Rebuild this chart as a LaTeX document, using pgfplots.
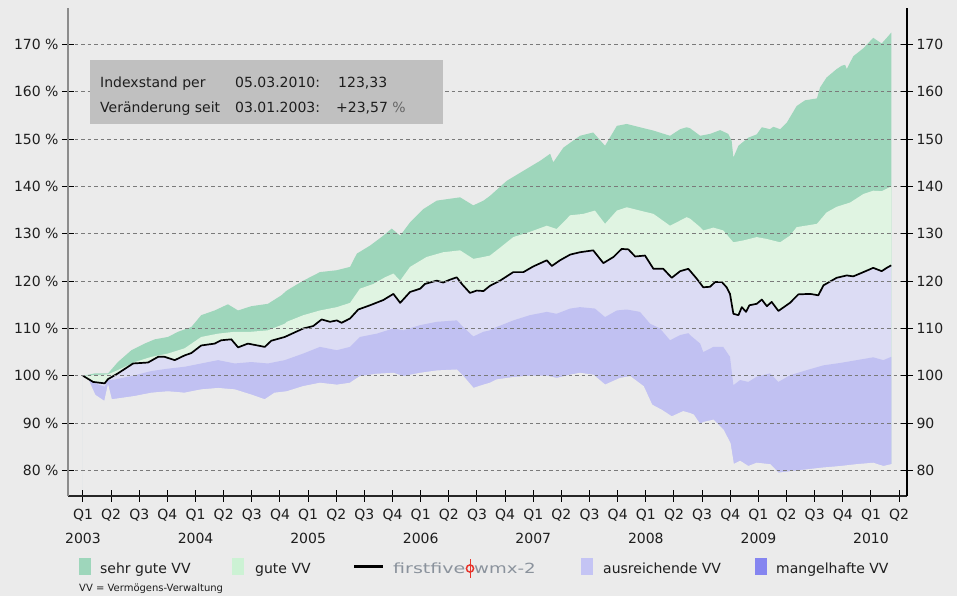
\documentclass[border=0pt]{standalone}
\usepackage{fontspec}
\setmainfont{DejaVu Sans}
\usepackage{graphicx}
\usepackage{pgfplots}
\pgfplotsset{compat=1.18}
\definecolor{bg}{HTML}{EBEBEB}
\definecolor{sgut}{HTML}{9ED6BB}
\definecolor{gut}{HTML}{E0F4E2}
\definecolor{gutleg}{HTML}{CCF2D4}
\definecolor{ausr}{HTML}{DCDCF4}
\definecolor{ausrleg}{HTML}{C4C4F4}
\definecolor{mang}{HTML}{C1C1F2}
\definecolor{mangleg}{HTML}{8585F0}
\definecolor{boxgray}{HTML}{C0C0C0}
\definecolor{gridgray}{HTML}{7A7A7A}
\definecolor{txt}{HTML}{1E1E1E}
\definecolor{logogray}{HTML}{8A929C}
\definecolor{logored}{HTML}{E8332A}
\pgfplotsset{
  common/.style={
    at={(68bp,100bp)}, anchor=south west,
    scale only axis, width=839bp, height=488bp,
    xmin=-0.533, xmax=29.28, ymin=74.6, ymax=177.7,
    ytick={80,90,...,170},
    tick align=center, major tick length=12bp,
    tick style={black, line width=1bp},
    tick label style={font=\fontsize{14bp}{24bp}\selectfont, text=txt},
  }
}
\begin{document}
\begin{tikzpicture}
\useasboundingbox (0,0) rectangle (957bp,596bp);
\fill[bg] (0,0) rectangle (957bp,596bp);
\begin{axis}[common,
  axis on top,
  axis x line*=bottom, axis y line*=left,
  x axis line style={-, black!85, line width=1.3bp},
  y axis line style={-, black!45, line width=1.5bp},
  xtick={0,...,29},
  xticklabels={{Q1\\2003},Q2,Q3,Q4,{Q1\\2004},Q2,Q3,Q4,{Q1\\2005},Q2,Q3,Q4,{Q1\\2006},Q2,Q3,Q4,{Q1\\2007},Q2,Q3,Q4,{Q1\\2008},Q2,Q3,Q4,{Q1\\2009},Q2,Q3,Q4,{Q1\\2010},Q2},
  xticklabel style={align=center, yshift=-4bp},
  yticklabels={80 \%,90 \%,100 \%,110 \%,120 \%,130 \%,140 \%,150 \%,160 \%,170 \%},
  ymajorgrids,
  grid style={gridgray, dash pattern=on 3.5bp off 3bp, line width=1bp},
]
% sehr gute VV (upper envelope)
\addplot[fill=sgut, draw=none] coordinates {
(0,100) (0.42,100.5) (0.89,100.5) (1.24,102.9) (1.72,105.4) (2.19,106.8) (2.55,107.7) (3.02,108.2) (3.38,109.3) (3.85,110.3) (4.20,112.8) (4.68,113.8) (5.15,115.1) (5.51,113.8) (5.98,114.7) (6.57,115.2) (7.05,117) (7.24,118) (7.83,120.1) (8.42,121.9) (9.02,122.3) (9.49,123) (9.73,125.8) (10.20,127.5) (10.67,129.6) (10.97,131.1) (11.27,129.6) (11.62,132.4) (12.09,135.2) (12.57,137) (13.04,137.4) (13.40,137.7) (13.87,136) (14.23,137) (14.46,138) (15.06,141.2) (15.65,143.3) (16.24,145.4) (16.60,146.9) (16.71,145.1) (17.07,148.2) (17.66,150.7) (18.13,151.4) (18.55,148.6) (18.97,152.8) (19.32,153.2) (19.79,152.5) (20.27,151.8) (20.86,150.7) (21.22,152.1) (21.45,152.5) (21.57,152.3) (21.93,150.7) (22.28,151.1) (22.64,151.9) (22.93,151.1) (23.05,149.6) (23.11,146.1) (23.29,148.6) (23.64,150.3) (23.94,151) (24.12,152.5) (24.41,152.1) (24.53,152.6) (24.77,152.1) (25.01,153.5) (25.36,157) (25.66,158.2) (26.08,158.6) (26.19,160.9) (26.42,163) (26.78,164.8) (26.96,165.5) (27.08,165.7) (27.14,164.8) (27.37,167.5) (27.73,169.2) (28.08,171.4) (28.38,170.2) (28.56,171.4) (28.72,172.5)
} \closedcycle;
% gute VV (upper quartile)
\addplot[fill=gut, draw=none] coordinates {
(0,100) (0.89,100.3) (1.24,101.2) (1.84,102.9) (2.43,104) (3.02,104.7) (3.61,105.8) (4.20,108.2) (4.80,108.9) (5.39,109.3) (5.98,109.3) (6.57,109.6) (7.17,111) (7.24,111.4) (7.83,112.8) (8.42,113.8) (9.02,114.5) (9.49,115.4) (9.84,118.4) (10.32,119.4) (10.73,120.8) (11.03,121.6) (11.27,120.1) (11.62,123) (12.21,125.1) (12.80,126.1) (13.40,126.5) (13.87,124.7) (14.23,125.1) (14.46,125.4) (14.70,126.5) (15.29,129.3) (15.88,130.4) (16.48,131.7) (16.83,131) (17.31,133.9) (17.78,134.2) (18.19,134.9) (18.55,132.1) (18.97,134.9) (19.32,135.6) (19.79,134.9) (20.27,134.2) (20.86,131.7) (21.22,132.8) (21.45,133.5) (21.57,133.2) (21.93,131.4) (22.04,130.7) (22.40,131.3) (22.75,130.7) (23.11,128.2) (23.47,128.6) (23.94,129.3) (24.30,128.9) (24.77,128.2) (25.12,129.6) (25.36,131.4) (26.08,132.1) (26.42,134.5) (26.78,135.7) (27.26,136.6) (27.73,138.4) (28.08,139.1) (28.38,139) (28.72,140)
} \closedcycle;
% ausreichende VV (down to index line)
\addplot[fill=ausr, draw=none] table {
x y
0 100
0.36 98.7
0.77 98.4
0.89 99.3
1.24 100.5
1.78 102.6
2.31 102.8
2.67 104
2.90 104
3.26 103.3
3.61 104.3
3.85 104.8
4.20 106.4
4.68 106.8
4.91 107.5
5.27 107.7
5.51 106
5.86 106.8
6.46 106.1
6.69 107.4
7.17 108.2
7.83 110
8.18 110.5
8.48 111.9
8.78 111.4
9.02 111.7
9.19 111.2
9.49 112.1
9.78 114
10.20 114.9
10.67 116
11.03 117.3
11.27 115.4
11.62 117.7
11.98 118.4
12.15 119.4
12.57 120.1
12.80 119.7
13.04 120.3
13.28 120.8
13.46 119.4
13.75 117.5
13.99 118
14.23 117.9
14.46 119
14.82 120.1
15.29 121.9
15.65 121.9
16.00 123.1
16.48 124.4
16.66 123.2
16.95 124.4
17.31 125.6
17.66 126.1
18.13 126.5
18.49 123.8
18.85 125.1
19.14 126.8
19.38 126.7
19.62 125.2
19.97 125.4
20.27 122.6
20.62 122.6
20.92 120.7
21.22 122.1
21.51 122.6
21.81 120.5
22.04 118.7
22.28 118.8
22.46 119.8
22.70 119.8
22.87 118.7
22.99 117.3
23.11 113.1
23.29 112.8
23.41 114.5
23.56 113.5
23.68 114.9
23.94 115.2
24.12 116.1
24.30 114.7
24.47 115.6
24.71 113.7
25.12 115.4
25.42 117.2
25.84 117.3
26.13 117
26.31 119.1
26.78 120.7
27.14 121.2
27.37 121
27.73 121.9
28.08 122.8
28.38 122.1
28.56 122.8
28.72 123.33
} \closedcycle;
% mangelhafte VV (lower quartile)
\addplot[fill=mang, draw=none] coordinates {
(0,100) (0.42,98.4) (0.77,97.7) (0.89,99.1) (1.13,99.2) (1.84,100.1) (2.43,101) (3.02,101.5) (3.61,101.9) (4.20,102.6) (4.80,103.3) (5.39,102.6) (5.98,102.9) (6.57,102.6) (7.17,103.3) (7.83,104.7) (8.42,106.1) (9.02,105.4) (9.49,106.1) (9.84,108.2) (10.44,108.9) (11.03,110) (11.38,109.6) (11.98,110.7) (12.57,111.4) (13.28,111.7) (13.51,110.3) (13.87,108.3) (14.23,109.3) (14.46,109.6) (14.70,110.3) (15.29,111.7) (15.88,112.8) (16.48,113.5) (16.83,113.1) (17.31,114.2) (17.66,114.5) (18.19,114.2) (18.55,112.4) (18.97,113.8) (19.32,114) (19.79,113.5) (20.15,111) (20.50,110) (20.86,107.5) (21.22,108.6) (21.51,109) (21.57,108.6) (21.93,106.8) (22.04,105) (22.40,106.1) (22.75,106.1) (22.99,104) (23.11,98) (23.35,99.1) (23.64,98.7) (23.94,99.8) (24.41,100.5) (24.71,98.7) (25.12,100.1) (25.72,101.2) (26.31,102.2) (26.90,102.7) (27.49,103.3) (28.08,103.9) (28.44,103.3) (28.72,104)
} \closedcycle;
% lower envelope (background below)
\addplot[fill=bg, draw=bg, line width=1.2bp] coordinates {
(0,100) (0.18,99.1) (0.42,95.9) (0.77,94.5) (0.89,97.7) (1.01,94.9) (1.84,95.6) (2.43,96.3) (3.02,96.6) (3.61,96.3) (4.20,97) (4.80,97.3) (5.39,97) (5.98,95.9) (6.46,94.9) (6.81,96.3) (7.24,96.6) (7.83,97.7) (8.42,98.4) (9.02,98) (9.49,98.4) (9.84,99.8) (10.44,100.3) (11.03,100.5) (11.38,99.8) (11.98,100.5) (12.57,101) (13.28,101.2) (13.51,99.8) (13.87,97.3) (14.23,98) (14.46,98.4) (14.70,99.1) (15.29,99.6) (15.88,99.9) (16.48,99.9) (16.83,99.4) (17.31,100.1) (17.66,100.5) (18.13,100.1) (18.55,98) (19.08,99.4) (19.44,99.8) (19.91,97.7) (20.21,93.8) (20.56,92.7) (20.92,91.3) (21.33,92.4) (21.57,92) (21.69,91.7) (21.93,89.6) (22.04,90.1) (22.40,90.6) (22.75,88.5) (22.99,85.7) (23.11,81.2) (23.35,81.9) (23.64,80.8) (23.94,81.5) (24.41,81.2) (24.71,79.4) (25.12,79.7) (25.72,80.1) (26.31,80.5) (26.90,80.8) (27.49,81.2) (28.08,81.5) (28.44,80.8) (28.72,81.2)
} \closedcycle;
% index line
\addplot[black, line width=1.7bp, line join=round] table {
x y
0 100
0.36 98.7
0.77 98.4
0.89 99.3
1.24 100.5
1.78 102.6
2.31 102.8
2.67 104
2.90 104
3.26 103.3
3.61 104.3
3.85 104.8
4.20 106.4
4.68 106.8
4.91 107.5
5.27 107.7
5.51 106
5.86 106.8
6.46 106.1
6.69 107.4
7.17 108.2
7.83 110
8.18 110.5
8.48 111.9
8.78 111.4
9.02 111.7
9.19 111.2
9.49 112.1
9.78 114
10.20 114.9
10.67 116
11.03 117.3
11.27 115.4
11.62 117.7
11.98 118.4
12.15 119.4
12.57 120.1
12.80 119.7
13.04 120.3
13.28 120.8
13.46 119.4
13.75 117.5
13.99 118
14.23 117.9
14.46 119
14.82 120.1
15.29 121.9
15.65 121.9
16.00 123.1
16.48 124.4
16.66 123.2
16.95 124.4
17.31 125.6
17.66 126.1
18.13 126.5
18.49 123.8
18.85 125.1
19.14 126.8
19.38 126.7
19.62 125.2
19.97 125.4
20.27 122.6
20.62 122.6
20.92 120.7
21.22 122.1
21.51 122.6
21.81 120.5
22.04 118.7
22.28 118.8
22.46 119.8
22.70 119.8
22.87 118.7
22.99 117.3
23.11 113.1
23.29 112.8
23.41 114.5
23.56 113.5
23.68 114.9
23.94 115.2
24.12 116.1
24.30 114.7
24.47 115.6
24.71 113.7
25.12 115.4
25.42 117.2
25.84 117.3
26.13 117
26.31 119.1
26.78 120.7
27.14 121.2
27.37 121
27.73 121.9
28.08 122.8
28.38 122.1
28.56 122.8
28.72 123.33
};
\end{axis}
\begin{axis}[common,
  axis x line=none, axis y line*=right,
  y axis line style={-, black, line width=1.5bp},
  yticklabels={80,90,100,110,120,130,140,150,160,170},
]
\end{axis}
% info box
\fill[boxgray] (90bp,472bp) rectangle (443bp,536bp);
\begin{scope}[every node/.style={anchor=base west, inner sep=0pt, text=txt, font=\fontsize{14bp}{16bp}\selectfont}]
\node at (100bp,508.7bp) {Indexstand per};
\node at (235bp,508.7bp) {05.03.2010:};
\node at (338bp,508.7bp) {123,33};
\node at (100bp,483bp) {Veränderung seit};
\node at (235bp,483bp) {03.01.2003:};
\node at (336bp,483bp) {+23,57 \textcolor{black!60}{\%}};
\end{scope}
% legend
\fill[sgut] (79bp,21bp) rectangle (91bp,38bp);
\fill[gutleg] (232bp,21bp) rectangle (244bp,38bp);
\fill[ausrleg] (581bp,21bp) rectangle (593bp,38bp);
\fill[mangleg] (755bp,21bp) rectangle (767bp,38bp);
\draw[black, line width=3bp] (354bp,29bp) -- (383bp,29bp);
\draw[logored, line width=1.5bp] (470bp,27.5bp) circle (3.6bp);
\draw[logored, line width=1bp] (470bp,18bp) -- (470bp,36.5bp);
\begin{scope}[every node/.style={anchor=base west, inner sep=0pt, text=txt, font=\fontsize{14bp}{16bp}\selectfont}]
\node at (100bp,22.5bp) {sehr gute VV};
\node at (255bp,22.5bp) {gute VV};
\node[text=logogray] at (393bp,22.5bp) {\scalebox{1.36}[1]{firstfive}};
\node[text=logogray] at (474bp,22.5bp) {\scalebox{1.3}[1]{wmx-2}};
\node at (603bp,22.5bp) {ausreichende VV};
\node at (776bp,22.5bp) {mangelhafte VV};
\node[font=\fontsize{10bp}{12bp}\selectfont] at (79bp,5bp) {VV = Vermögens-Verwaltung};
\end{scope}
\end{tikzpicture}
\end{document}
